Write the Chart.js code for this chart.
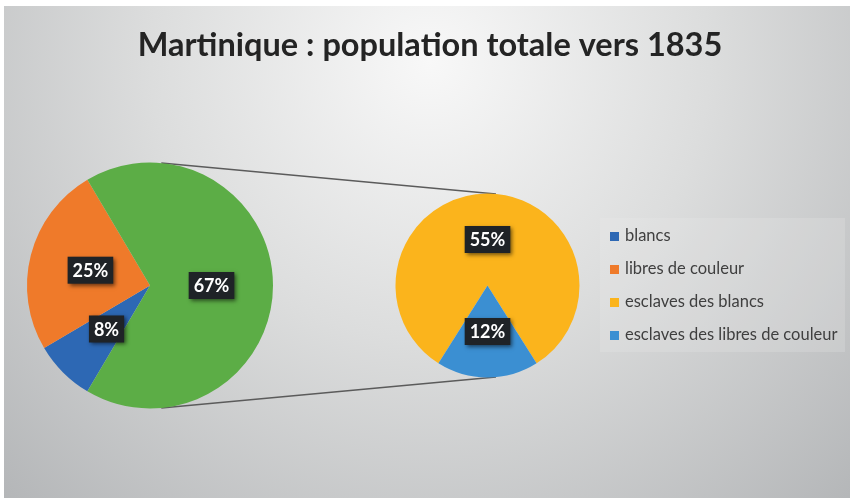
<!DOCTYPE html>
<html><head><meta charset="utf-8">
<script src="https://cdn.jsdelivr.net/npm/chart.js@4.4.1/dist/chart.umd.min.js"></script>
<style>
html,body{margin:0;padding:0;width:850px;height:500px;overflow:hidden;background:#ffffff;}
.wrap{position:absolute;}
#legend{position:absolute;left:600px;top:218px;width:245px;height:134px;background:rgba(238,238,238,0.22);font-family:Lato,sans-serif;font-size:16.5px;color:#3f3f3f;}
.li{position:absolute;left:10px;height:20px;line-height:20px;white-space:nowrap;}
.sw{display:inline-block;width:9px;height:9px;margin-right:6px;vertical-align:0px;}
</style></head>
<body>
<div class="wrap" id="wC" style="left:4px;top:6px;width:846px;height:492px;"><canvas id="cC"></canvas></div>
<div class="wrap" id="wA" style="left:0px;top:140px;width:300px;height:290px;"><canvas id="cA"></canvas></div>
<div class="wrap" id="wB" style="left:380px;top:170px;width:220px;height:230px;"><canvas id="cB"></canvas></div>
<div id="legend"></div>
<script>
// ---- data ----
const titleText = 'Martinique : population totale vers 1835';
const primaryLabels = ['blancs', 'libres de couleur', 'esclaves'];
const primaryValues = [8, 25, 67];
const secondaryLabels = ['esclaves des blancs', 'esclaves des libres de couleur'];
const secondaryValues = [55, 12];
// ---- styles ----
const primaryColors = ['#2d68b4', '#ef7a2a', '#5cad46'];
const secondaryColors = ['#fbb41c', '#3b8fd2'];

const sum = a => a.reduce((s, v) => s + v, 0);

const boxLabels = {
  id: 'boxLabels',
  afterDatasetsDraw(chart) {
    const ctx = chart.ctx;
    const ds = chart.data.datasets[0];
    const meta = chart.getDatasetMeta(0);
    meta.data.forEach((arc, i) => {
      const p = arc.getCenterPoint();
      const txt = ds.data[i] + '%';
      ctx.save();
      ctx.font = 'bold 18px Lato, sans-serif';
      const w = ctx.measureText(txt).width + 10, h = 27;
      ctx.shadowColor = 'rgba(0,0,0,0.55)';
      ctx.shadowBlur = 4; ctx.shadowOffsetX = 2; ctx.shadowOffsetY = 2;
      ctx.fillStyle = '#1f2327';
      ctx.fillRect(p.x - w / 2, p.y - h / 2, w, h);
      ctx.shadowColor = 'transparent';
      ctx.fillStyle = '#ffffff';
      ctx.textAlign = 'center'; ctx.textBaseline = 'middle';
      ctx.fillText(txt, p.x, p.y + 1);
      ctx.restore();
    });
  }
};

const common = {
  responsive: true, maintainAspectRatio: false, animation: false, events: [],
  plugins: { legend: { display: false }, tooltip: { enabled: false }, title: { display: false } }
};

const totalP = sum(primaryValues);
const lastP = primaryValues[primaryValues.length - 1];
const chartA = new Chart(document.getElementById('cA'), {
  type: 'pie',
  data: { labels: primaryLabels, datasets: [{ data: primaryValues, backgroundColor: primaryColors, borderWidth: 0, hoverOffset: 0, offset: 0 }] },
  options: Object.assign({}, common, {
    rotation: 90 - 360 * (totalP - lastP / 2) / totalP,
    layout: { padding: { left: 27, right: 27, top: 22.5, bottom: 21.5 } }
  }),
  plugins: [boxLabels]
});

const totalS = sum(secondaryValues);
const chartB = new Chart(document.getElementById('cB'), {
  type: 'pie',
  data: { labels: secondaryLabels, datasets: [{ data: secondaryValues, backgroundColor: secondaryColors, borderWidth: 0, hoverOffset: 0, offset: 0 }] },
  options: Object.assign({}, common, {
    rotation: 180 - 360 * (secondaryValues[0] + secondaryValues[1] / 2) / totalS,
    layout: { padding: { left: 15.5, right: 20.5, top: 23.5, bottom: 22.5 } }
  }),
  plugins: [boxLabels]
});

// background + connector lines
const frame = {
  id: 'frame',
  beforeDraw(chart) {
    const ctx = chart.ctx, w = chart.width, h = chart.height;
    const g = ctx.createRadialGradient(426, 55, 0, 426, 55, 620);
    g.addColorStop(0, '#f8f8f8');
    g.addColorStop(0.45, '#dcdddd');
    g.addColorStop(1, '#b3b5b7');
    ctx.save();
    ctx.fillStyle = g;
    ctx.fillRect(0, 0, w, h);
    ctx.restore();
  },
  afterDraw(chart) {
    const ctx = chart.ctx;
    const rc = chart.canvas.getBoundingClientRect();
    const geo = (c) => {
      const r = c.canvas.getBoundingClientRect();
      const a = c.getDatasetMeta(0).data[0];
      return { x: a.x + r.left - rc.left, y: a.y + r.top - rc.top, r: a.outerRadius };
    };
    const p = geo(chartA), q = geo(chartB);
    const dx = q.x - p.x, dy = q.y - p.y, d = Math.hypot(dx, dy);
    const phi = Math.atan2(dy, dx), beta = Math.acos((p.r - q.r) / d);
    ctx.save();
    ctx.strokeStyle = '#5b5b5b';
    ctx.lineWidth = 1.5;
    [-1, 1].forEach(s => {
      const a = phi + s * beta;
      ctx.beginPath();
      ctx.moveTo(p.x + p.r * Math.cos(a), p.y + p.r * Math.sin(a));
      ctx.lineTo(q.x + q.r * Math.cos(a), q.y + q.r * Math.sin(a));
      ctx.stroke();
    });
    ctx.restore();
  }
};

const chartC = new Chart(document.getElementById('cC'), {
  type: 'pie',
  data: { labels: [], datasets: [] },
  options: {
    responsive: true, maintainAspectRatio: false, animation: false, events: [],
    layout: { padding: { left: 6, right: 0, top: 0, bottom: 0 } },
    plugins: {
      legend: { display: false }, tooltip: { enabled: false },
      title: { display: true, text: titleText, color: '#242424',
        font: { family: 'Lato, sans-serif', size: 32.5, weight: 'bold', lineHeight: 1.2 },
        padding: { top: 20, bottom: 10 } }
    }
  },
  plugins: [frame]
});

// HTML legend built from the charts
const legendEl = document.getElementById('legend');
const items = [
  { t: chartA.data.labels[0], c: primaryColors[0] },
  { t: chartA.data.labels[1], c: primaryColors[1] },
  { t: chartB.data.labels[0], c: secondaryColors[0] },
  { t: chartB.data.labels[1], c: secondaryColors[1] }
];
items.forEach((it, i) => {
  const d = document.createElement('div');
  d.className = 'li';
  d.style.top = (7 + i * 33) + 'px';
  const s = document.createElement('span');
  s.className = 'sw'; s.style.background = it.c;
  d.appendChild(s);
  d.appendChild(document.createTextNode(it.t));
  legendEl.appendChild(d);
});
</script>
</body></html>
